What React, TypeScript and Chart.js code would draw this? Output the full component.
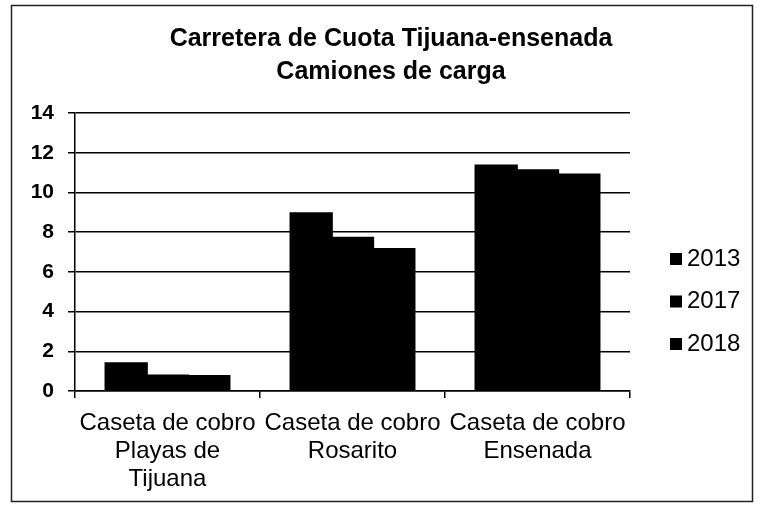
import React, { useEffect, useRef } from "react";
import { Chart, registerables } from "chart.js";

Chart.register(...registerables);

const TITLE_LINES = ["Carretera de Cuota Tijuana-ensenada", "Camiones de carga"];
const CATEGORIES = [
  ["Caseta de cobro", "Playas de", "Tijuana"],
  ["Caseta de cobro", "Rosarito"],
  ["Caseta de cobro", "Ensenada"],
];
const SERIES_NAMES = ["2013", "2017", "2018"];
const VALUES_2013 = [1.4, 8.95, 11.35];
const VALUES_2017 = [0.78, 7.72, 11.12];
const VALUES_2018 = [0.75, 7.15, 10.9];
const Y_MIN = 0;
const Y_MAX = 14;
const Y_STEP = 2;

const FONT = "'Liberation Sans', Arial, sans-serif";

const framePlugin = {
  id: "frame",
  beforeDraw(chart: any) {
    const { ctx, width, height } = chart;
    ctx.save();
    ctx.fillStyle = "#ffffff";
    ctx.fillRect(0, 0, width, height);
    ctx.strokeStyle = "#222";
    ctx.lineWidth = 1.5;
    ctx.strokeRect(11.5, 5.5, 741, 496);
    ctx.restore();
  },
};

const legendPlugin = {
  id: "customLegend",
  afterDraw(chart: any) {
    const { ctx } = chart;
    const datasets = chart.data.datasets;
    ctx.save();
    ctx.font = `24px ${FONT}`;
    ctx.textBaseline = "middle";
    ctx.textAlign = "left";
    datasets.forEach((ds: any, i: number) => {
      const cy = 259 + i * 42.5;
      ctx.fillStyle = ds.backgroundColor;
      ctx.fillRect(670, cy - 6, 12, 12);
      ctx.fillStyle = "#000";
      ctx.fillText(ds.label, 687, cy);
    });
    ctx.restore();
  },
};

export default function App() {
  const ref = useRef<HTMLCanvasElement | null>(null);

  useEffect(() => {
    if (!ref.current) return;
    const seriesValues = [VALUES_2013, VALUES_2017, VALUES_2018];
    const chart = new Chart(ref.current, {
      type: "bar",
      data: {
        labels: CATEGORIES,
        datasets: SERIES_NAMES.map((name, i) => ({
          label: name,
          data: seriesValues[i],
          backgroundColor: "#000000",
          borderColor: "#000000",
          borderWidth: 0,
          inflateAmount: 1,
          categoryPercentage: 0.67,
          barPercentage: 1.0,
          yAxisID: "y",
        })),
      },
      options: {
        animation: false,
        responsive: false,
        maintainAspectRatio: false,
        devicePixelRatio: 1,
        layout: { padding: { left: 22, right: 0, top: 0, bottom: 0 } },
        plugins: {
          legend: { display: false },
          tooltip: { enabled: false },
          title: {
            display: true,
            text: TITLE_LINES,
            color: "#000",
            font: { family: FONT, size: 25, weight: "bold", lineHeight: 1.3 },
            padding: { top: 23, bottom: 25 },
          },
        },
        scales: {
          x: {
            grid: {
              display: true,
              drawOnChartArea: false,
              drawTicks: true,
              tickLength: 7,
              color: "#000",
              lineWidth: 1.5,
              offset: true,
            },
            border: { display: true, color: "#000", width: 1.5 },
            ticks: {
              color: "#000",
              font: { family: FONT, size: 24, lineHeight: 1.15 },
              padding: 12,
              maxRotation: 0,
              autoSkip: false,
            },
            afterFit: (scale: any) => {
              scale.height = 120;
            },
          },
          y: {
            position: "left",
            min: Y_MIN,
            max: Y_MAX,
            grid: {
              color: "#000",
              lineWidth: 1.5,
              drawTicks: true,
              tickLength: 7,
            },
            border: { display: true, color: "#000", width: 1.5 },
            ticks: {
              stepSize: Y_STEP,
              color: "#000",
              font: { family: FONT, size: 21, weight: "bold" },
              padding: 14,
            },
            afterFit: (scale: any) => {
              scale.width = 53;
            },
          },
          y2: {
            position: "right",
            display: true,
            grid: { display: false, drawTicks: false },
            border: { display: false },
            ticks: { display: false },
            afterFit: (scale: any) => {
              scale.width = 130;
            },
          },
        },
      },
      plugins: [framePlugin, legendPlugin],
    });
    return () => chart.destroy();
  }, []);

  return (
    <div style={{ position: "absolute", left: 0, top: 0, width: 760, height: 511 }}>
      <canvas ref={ref} width={760} height={511} style={{ display: "block", width: 760, height: 511 }} />
    </div>
  );
}
